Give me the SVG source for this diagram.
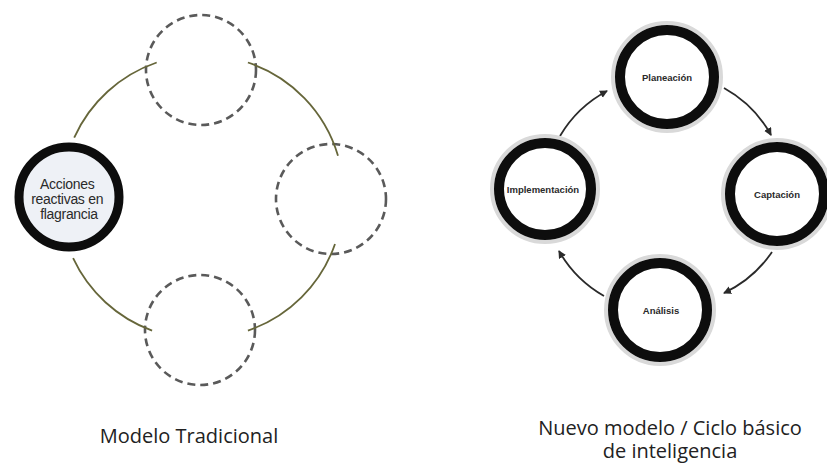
<svg xmlns="http://www.w3.org/2000/svg" width="827" height="473" viewBox="0 0 827 473">
<style>
.dash{fill:#fff;stroke:#5a5a5a;stroke-width:2.6;stroke-dasharray:8 5}
.arc{fill:none;stroke:#66663a;stroke-width:1.8}
.halo{fill:none;stroke:#d9d9d9;stroke-width:4}
.ring{fill:#fff;stroke:#0d0d0d;stroke-width:10}
.lbl{font-family:"Liberation Sans",Arial,sans-serif;font-size:9.5px;font-weight:bold;fill:#2a2a2a;text-anchor:middle}
.title{font-family:"Open Sans","Liberation Sans",sans-serif;font-size:20px;fill:#222;text-anchor:middle}
.arr{fill:none;stroke:#2a2a2a;stroke-width:1.8;marker-end:url(#ah)}
</style>
<defs>
<marker id="ah" markerUnits="userSpaceOnUse" markerWidth="9" markerHeight="9" refX="7" refY="4" orient="auto">
<path d="M0,0 L8,4 L0,8 z" fill="#2a2a2a"/>
</marker>
</defs>
<rect width="827" height="473" fill="#fff"/>

<!-- Left: Modelo Tradicional -->
<g id="dash-top"><circle class="dash" cx="201" cy="70" r="55"/></g>
<g id="dash-right"><circle class="dash" cx="331" cy="199" r="55"/></g>
<g id="dash-bottom"><circle class="dash" cx="200" cy="330" r="55"/></g>
<g id="connectors-left">
<path class="arc" d="M74.2 137.6 A140 140 0 0 1 156.7 62.5"/>
<path class="arc" d="M247.9 62.5 A140 140 0 0 1 338 155.7"/>
<path class="arc" d="M335 244 A140 140 0 0 1 247.9 330.6"/>
<path class="arc" d="M152.1 330.6 A140 140 0 0 1 73.1 258.2"/>
</g>
<g id="acciones">
<circle cx="69" cy="197" r="50" fill="#eef1f6" stroke="#0d0d0d" stroke-width="9"/>
<text font-family="Liberation Sans,Arial,sans-serif" font-size="14" fill="#2a2a2a" text-anchor="middle" letter-spacing="-0.3">
<tspan x="69" y="189">Acciones</tspan>
<tspan x="69" y="204">reactivas en</tspan>
<tspan x="69" y="219">flagrancia</tspan>
</text>
</g>
<g id="title-left"><text class="title" x="189" y="443">Modelo Tradicional</text></g>

<!-- Right: Ciclo básico -->
<g id="connectors-right">
<path class="arr" d="M560 136 A120 120 0 0 1 607 91"/>
<path class="arr" d="M724 88 A120 120 0 0 1 771 135"/>
<path class="arr" d="M772 252 A120 120 0 0 1 724 293"/>
<path class="arr" d="M604 296 A120 120 0 0 1 559 251"/>
</g>
<g id="planeacion">
<circle class="halo" cx="667" cy="77" r="54"/>
<circle class="ring" cx="667" cy="77" r="47"/>
<text class="lbl" x="667" y="80.5">Planeación</text>
</g>
<g id="captacion">
<circle class="halo" cx="777" cy="194" r="54"/>
<circle class="ring" cx="777" cy="194" r="47"/>
<text class="lbl" x="777" y="197.5">Captación</text>
</g>
<g id="analisis">
<circle class="halo" cx="660" cy="310" r="54"/>
<circle class="ring" cx="660" cy="310" r="47"/>
<text class="lbl" x="661" y="313.5">Análisis</text>
</g>
<g id="implementacion">
<circle class="halo" cx="545" cy="189" r="53"/>
<circle class="ring" cx="545" cy="189" r="46"/>
<text class="lbl" x="543" y="193" font-size="9.8">Implementación</text>
</g>
<g id="title-right">
<text class="title"><tspan x="670" y="435">Nuevo modelo / Ciclo básico</tspan><tspan x="670" y="458">de inteligencia</tspan></text>
</g>
</svg>
